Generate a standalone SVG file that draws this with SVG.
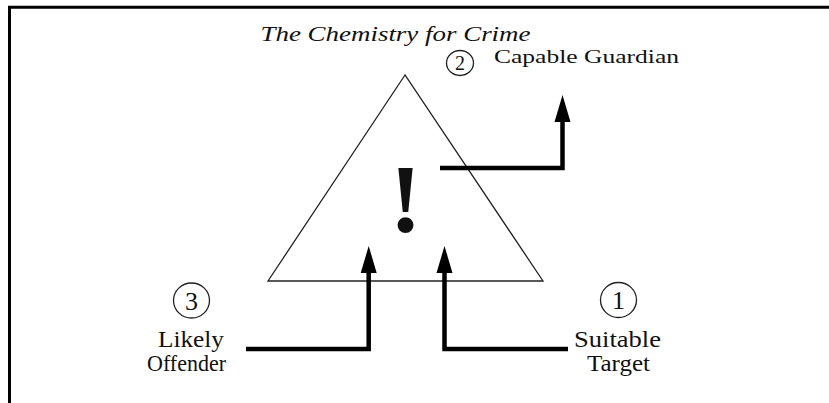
<svg xmlns="http://www.w3.org/2000/svg" width="829" height="403" viewBox="0 0 829 403">
<style>
.lbl{font-family:"Liberation Serif","Times New Roman",serif;fill:#111;text-anchor:middle}
.num{font-family:"Liberation Serif","Times New Roman",serif;fill:#111;text-anchor:middle}
.ring{fill:none;stroke:#222;stroke-width:1.3}
.conn{fill:none;stroke:#000;stroke-width:4.5;stroke-linejoin:miter;stroke-linecap:butt}
</style>
<defs>
<marker id="ah" markerUnits="userSpaceOnUse" markerWidth="30" markerHeight="20" viewBox="0 -10 30 20" refX="0" refY="0" orient="auto">
<path d="M0,-8 L27,0 L0,8 z" fill="#000"/>
</marker>
</defs>
<rect width="829" height="403" fill="#fff"/>
<g id="frame">
<path d="M9.5,403 V7.3 H829" fill="none" stroke="#000" stroke-width="3"/>
</g>
<g id="title">
<text class="lbl" x="395.5" y="41" font-size="22" font-style="italic" textLength="270" lengthAdjust="spacingAndGlyphs">The Chemistry for Crime</text>
</g>
<g id="crime">
<polygon points="405,75 268,281 543,281" fill="none" stroke="#222" stroke-width="1.3"/>
<text class="lbl" x="405.5" y="232" font-size="98" font-weight="bold">!</text>
</g>
<g id="guardian">
<ellipse class="ring" cx="460" cy="63" rx="13.5" ry="12.5"/>
<text class="num" x="460" y="70" font-size="20">2</text>
<text class="lbl" x="586.5" y="63" font-size="19" textLength="185" lengthAdjust="spacingAndGlyphs">Capable Guardian</text>
</g>
<g id="offender">
<ellipse class="ring" cx="191.5" cy="300.5" rx="18" ry="17.5"/>
<text class="num" x="191.5" y="309.5" font-size="26">3</text>
<text class="lbl" x="191" y="347" font-size="24" textLength="66" lengthAdjust="spacingAndGlyphs">Likely</text>
<text class="lbl" x="186.5" y="371" font-size="24" textLength="79" lengthAdjust="spacingAndGlyphs">Offender</text>
</g>
<g id="target">
<ellipse class="ring" cx="618.5" cy="300" rx="18" ry="17.5"/>
<text class="num" x="618.5" y="309" font-size="26">1</text>
<text class="lbl" x="617.5" y="347" font-size="24" textLength="87" lengthAdjust="spacingAndGlyphs">Suitable</text>
<text class="lbl" x="618.5" y="371" font-size="24" textLength="63" lengthAdjust="spacingAndGlyphs">Target</text>
</g>
<g id="connectors">
<path class="conn" d="M246,349 H368.7 V273" marker-end="url(#ah)"/>
<path class="conn" d="M568,349 H444.5 V273" marker-end="url(#ah)"/>
<path class="conn" d="M440,168 H562.5 V122" marker-end="url(#ah)"/>
</g>
</svg>
